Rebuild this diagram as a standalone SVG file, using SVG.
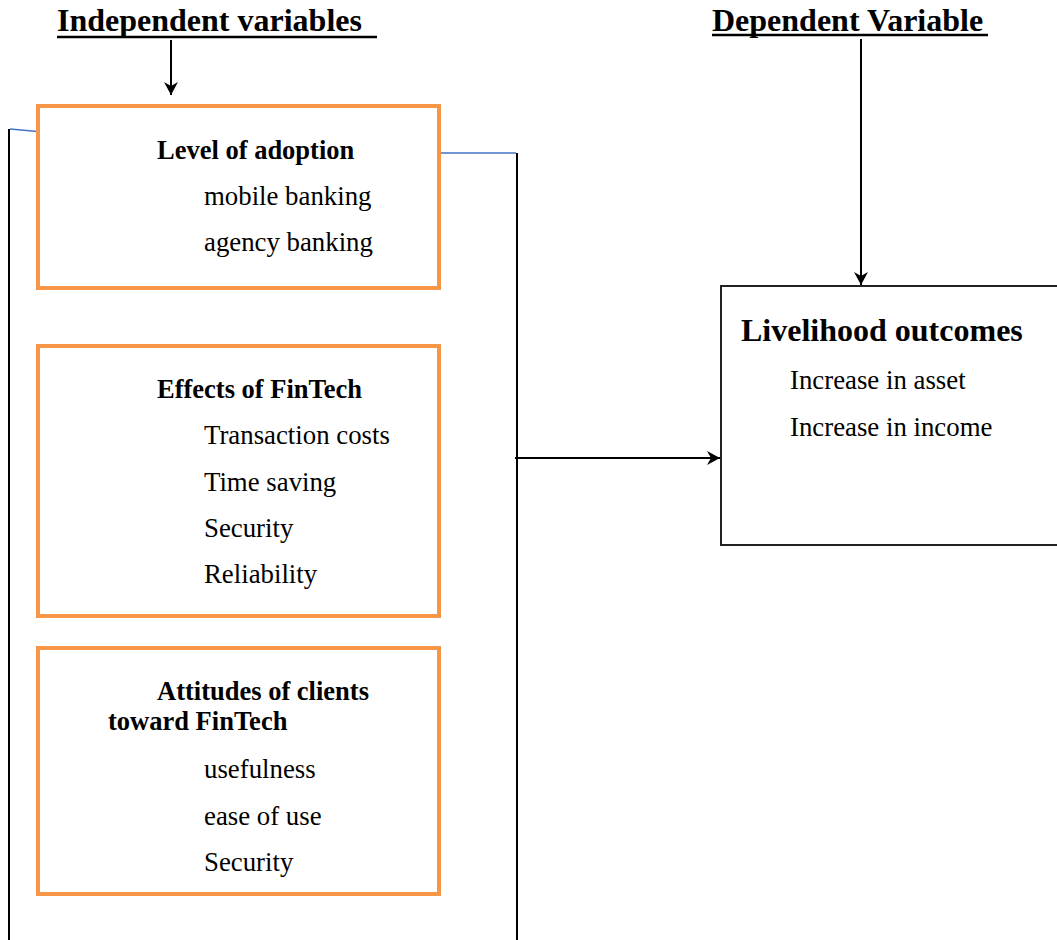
<svg xmlns="http://www.w3.org/2000/svg" width="1057" height="940" viewBox="0 0 1057 940">
<style>
.box{fill:#fff;stroke:#F79646;stroke-width:4}
.dbox{fill:#fff;stroke:#222;stroke-width:2}
.h{font-family:"Liberation Serif","Times New Roman",serif;font-weight:bold;font-size:26.5px;fill:#000}
.t{font-family:"Liberation Serif","Times New Roman",serif;font-size:26.8px;fill:#000}
.title{font-family:"Liberation Serif","Times New Roman",serif;font-weight:bold;font-size:32px;fill:#000}
.ln{stroke:#000;stroke-width:2;fill:none}
.bl{stroke:#4472C4;stroke-width:1.5;fill:none}
</style>
<defs>
<marker id="ah" markerWidth="14" markerHeight="14" refX="13" refY="7" orient="auto" markerUnits="userSpaceOnUse">
<path d="M0,0 L13,7 L0,14 L4,7 Z" fill="#000"/>
</marker>
</defs>
<g id="titles">
<text class="title" x="57" y="31">Independent variables</text>
<line x1="57" y1="37" x2="377" y2="37" stroke="#000" stroke-width="2.5"/>
<text class="title" x="712" y="31">Dependent Variable</text>
<line x1="712" y1="35" x2="988" y2="35" stroke="#000" stroke-width="2.5"/>
</g>
<g id="connectors">
<line class="ln" x1="171" y1="40" x2="171" y2="95" marker-end="url(#ah)"/>
<line class="ln" x1="861" y1="39" x2="861" y2="285" marker-end="url(#ah)"/>
<line class="ln" x1="515" y1="458" x2="720" y2="458" marker-end="url(#ah)"/>
<line class="ln" x1="9" y1="129" x2="9" y2="940"/>
<line class="bl" x1="10" y1="129" x2="43" y2="132"/>
<line class="ln" x1="517" y1="153" x2="517" y2="940"/>
<line class="bl" x1="440" y1="153" x2="516" y2="153"/>
</g>
<g id="level-of-adoption">
<rect class="box" x="38" y="106" width="401" height="182"/>
<text class="h" x="157" y="159">Level of adoption</text>
<text class="t" x="204" y="205">mobile banking</text>
<text class="t" x="204" y="251">agency banking</text>
</g>
<g id="effects-of-fintech">
<rect class="box" x="38" y="346" width="401" height="270"/>
<text class="h" x="157" y="398">Effects of FinTech</text>
<text class="t" x="204" y="444">Transaction costs</text>
<text class="t" x="204" y="491">Time saving</text>
<text class="t" x="204" y="537">Security</text>
<text class="t" x="204" y="583">Reliability</text>
</g>
<g id="attitudes">
<rect class="box" x="38" y="648" width="401" height="246"/>
<text class="h" x="157" y="700">Attitudes of clients</text>
<text class="h" x="108" y="730">toward FinTech</text>
<text class="t" x="204" y="778">usefulness</text>
<text class="t" x="204" y="825">ease of use</text>
<text class="t" x="204" y="871">Security</text>
</g>
<g id="livelihood">
<rect class="dbox" x="721" y="286" width="345" height="259"/>
<text class="title" x="741" y="341">Livelihood outcomes</text>
<text class="t" x="790" y="389">Increase in asset</text>
<text class="t" x="790" y="436">Increase in income</text>
</g>
</svg>
